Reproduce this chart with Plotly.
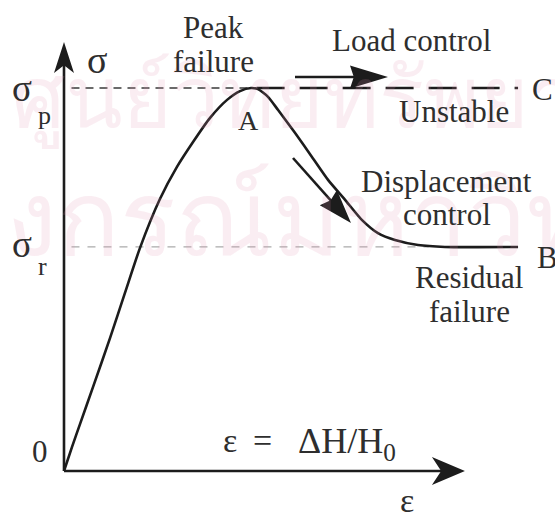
import plotly.graph_objects as go

# ---- stress-strain curve (strain in units of peak strain, stress in units of sigma_p)
eps_curve = [0.0, 0.043, 0.086, 0.155, 0.246, 0.326, 0.406, 0.513, 0.604, 0.690,
             0.781, 0.872, 0.941, 1.0, 1.037, 1.091, 1.144, 1.235, 1.326, 1.412,
             1.503, 1.594, 1.679, 1.770, 1.893, 2.037, 2.428]
sig_curve = [0.0, 0.063, 0.123, 0.219, 0.347, 0.465, 0.582, 0.710, 0.794, 0.859,
             0.922, 0.969, 0.992, 1.0, 0.997, 0.977, 0.943, 0.883, 0.820, 0.760,
             0.708, 0.655, 0.621, 0.603, 0.590, 0.585, 0.585]

sig_p = 1.0          # peak strength
sig_r = 0.585        # residual strength
eps_peak = 1.0
eps_end = 2.428      # end of residual branch (B) / unstable branch (C)
eps_axis_end = 2.144
sig_axis_end = 1.120

# ---- canvas / frame
W, H = 555, 516
X0_PX, Y0_PX = 64, 471            # origin position on the canvas
PX_PER_EPS, PX_PER_SIG = 187, 383

INK = "#1c1c1c"
TXT = "#2e2e2e"
SERIF = "Liberation Serif, Times New Roman, serif"
THAI = "Norasi, Kinnari, Tlwg Typo, Loma, Garuda, Noto Serif Thai, Noto Sans Thai, serif"


def to_px(e, s):
    return X0_PX + e * PX_PER_EPS, Y0_PX - s * PX_PER_SIG


def pxx(x):
    return x / W


def pxy(y):
    return 1 - y / H


fig = go.Figure()

# axes
fig.add_trace(go.Scatter(x=[0, 0], y=[0, sig_axis_end - 0.03], mode="lines",
                         line=dict(color=INK, width=2.6), hoverinfo="skip"))
fig.add_trace(go.Scatter(x=[0, eps_axis_end - 0.05], y=[0, 0], mode="lines",
                         line=dict(color=INK, width=2.6), hoverinfo="skip"))

# reference levels
fig.add_trace(go.Scatter(x=[0.04, eps_peak], y=[sig_p, sig_p], mode="lines",
                         line=dict(color="#3a3a3a", width=1.3, dash="8px,6px"),
                         hoverinfo="skip"))
fig.add_trace(go.Scatter(x=[0.04, 1.95], y=[sig_r, sig_r], mode="lines",
                         line=dict(color="#ababab", width=1.2, dash="8px,8px"),
                         hoverinfo="skip"))
# unstable branch under load control
fig.add_trace(go.Scatter(x=[1.03, eps_end], y=[sig_p, sig_p], mode="lines",
                         line=dict(color=INK, width=2.6, dash="28px,15px"),
                         hoverinfo="skip"))

# curve O-A-B
fig.add_trace(go.Scatter(x=eps_curve, y=sig_curve, mode="lines",
                         line=dict(color=INK, width=2.6, shape="spline", smoothing=0.6),
                         hoverinfo="skip"))


def head_path(tip, tail, length, width, notch=0.8):
    """Barbed arrowhead in paper coordinates, given canvas-pixel tip/tail."""
    tx, ty = tip
    dx, dy = tip[0] - tail[0], tip[1] - tail[1]
    n = (dx * dx + dy * dy) ** 0.5
    ux, uy = dx / n, dy / n
    vx, vy = -uy, ux
    bx, by = tx - ux * length, ty - uy * length
    nx_, ny_ = tx - ux * length * notch, ty - uy * length * notch
    pts = [(tx, ty), (bx + vx * width / 2, by + vy * width / 2), (nx_, ny_),
           (bx - vx * width / 2, by - vy * width / 2)]
    return "M " + " L ".join(f"{pxx(x):.5f},{pxy(y):.5f}" for x, y in pts) + " Z"


shapes = []
# axis arrowheads
y_tip = to_px(0, sig_axis_end)
shapes.append(dict(type="path", xref="paper", yref="paper",
                   path=head_path(y_tip, to_px(0, 0), 31, 20, 0.75),
                   fillcolor=INK, line=dict(width=0)))
x_tip = to_px(eps_axis_end, 0)
shapes.append(dict(type="path", xref="paper", yref="paper",
                   path=head_path(x_tip, to_px(0, 0), 33, 28, 0.72),
                   fillcolor=INK, line=dict(width=0)))

# direction arrows: load control and displacement control
arrows = [((295, 77), (388, 77), 38, 23), ((293, 158), (351, 223), 34, 23)]
for tail, tip, ln, wd in arrows:
    ux = tip[0] - tail[0]
    uy = tip[1] - tail[1]
    n = (ux * ux + uy * uy) ** 0.5
    ex, ey = tip[0] - ux / n * ln * 0.6, tip[1] - uy / n * ln * 0.6
    shapes.append(dict(type="line", xref="paper", yref="paper",
                       x0=pxx(tail[0]), y0=pxy(tail[1]), x1=pxx(ex), y1=pxy(ey),
                       line=dict(color=INK, width=2.6)))
    shapes.append(dict(type="path", xref="paper", yref="paper",
                       path=head_path(tip, tail, ln, wd, 0.9),
                       fillcolor=INK, line=dict(width=0)))

annotations = []


def label(text, x, y, size=31, anchor="center"):
    annotations.append(dict(text=text, x=pxx(x), y=pxy(y), xref="paper", yref="paper",
                            xanchor=anchor, yanchor="middle", showarrow=False,
                            font=dict(family=SERIF, size=size, color=TXT)))


# faint institutional watermark
for txt, x, y, sz in [("ศูนย์วิทยทรัพยากร", 10, 97, 84),
                      ("จุฬาลงกรณ์มหาวิทยาลัย", -250, 218, 104)]:
    annotations.append(dict(text=txt, x=pxx(x), y=pxy(y), xref="paper", yref="paper",
                            xanchor="left", yanchor="middle", showarrow=False,
                            font=dict(family=THAI, size=sz,
                                      color="rgba(225,150,175,0.17)")))

label("Peak", 213, 28)
label("failure", 213, 62)
label("σ", 97, 60, size=38)
label("σ", 22, 89, size=37)
label("p", 44, 116, size=26)
label("σ", 22, 245, size=37)
label("r", 42, 266, size=26)
label("A", 248, 121, size=28)
label("Load control", 411, 40)
label("Unstable", 454, 112)
label("C", 542, 90)
label("Displacement", 446, 182)
label("control", 447, 214)
label("B", 547, 257)
label("Residual", 469, 277)
label("failure", 469, 311)
label("0", 40, 451)
label("ε", 230, 440, size=34)
label("=", 262, 440, size=34)
label("ΔH/H<sub>0</sub>", 347, 443, size=36)
label("ε", 407, 500, size=34)

fig.update_layout(
    width=W, height=H,
    margin=dict(l=0, r=0, t=0, b=0),
    paper_bgcolor="white", plot_bgcolor="white",
    showlegend=False,
    shapes=shapes,
    annotations=annotations,
    xaxis=dict(range=[(0 - X0_PX) / PX_PER_EPS, (W - X0_PX) / PX_PER_EPS],
               visible=False, fixedrange=True),
    yaxis=dict(range=[(Y0_PX - H) / PX_PER_SIG, Y0_PX / PX_PER_SIG],
               visible=False, fixedrange=True),
)

fig.write_html("out.html")
